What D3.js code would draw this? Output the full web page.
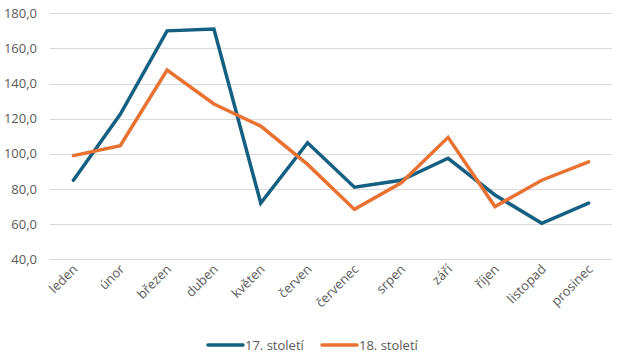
<!DOCTYPE html>
<html><head><meta charset="utf-8">
<script src="https://cdn.jsdelivr.net/npm/d3@7"></script>
<style>body{margin:0;background:#fff;}svg{display:block;font-family:"Open Sans","Liberation Sans",sans-serif;}</style>
</head><body><svg id="c" width="627" height="360"></svg>
<script>
const categories = ["leden","únor","březen","duben","květen","červen","červenec","srpen","září","říjen","listopad","prosinec"];
const series17 = [85, 122.5, 170, 171, 72, 106.3, 81, 85, 97.5, 76.6, 60.5, 72];
const series18 = [99, 104.6, 147.7, 128.4, 115.8, 94, 68.4, 83.5, 109.4, 70, 85, 95.5];
const yTicks = [40, 60, 80, 100, 120, 140, 160, 180];
const seriesNames = ["17. století", "18. století"];
const colors = ["#156082", "#E97132"];

const svg = d3.select("#c");
const x = d3.scaleBand().domain(categories).range([50, 612]);
const y = d3.scaleLinear().domain([40, 180]).range([259.3, 13.3]);
const fmt = v => d3.format(".1f")(v).replace(".", ",");

svg.append("g").selectAll("line").data(yTicks).join("line")
  .attr("x1", 50).attr("x2", 612)
  .attr("y1", d => Math.round(y(d)) + 0.5).attr("y2", d => Math.round(y(d)) + 0.5)
  .attr("stroke", "#D9D9D9").attr("stroke-width", 1);

svg.append("g").selectAll("text").data(yTicks).join("text")
  .attr("x", 37).attr("y", d => y(d) + 4.5)
  .attr("text-anchor", "end").attr("font-size", 13).attr("fill", "#595959")
  .text(fmt);

svg.append("g").selectAll("text").data(categories).join("text")
  .attr("transform", d => `translate(${x(d) + x.bandwidth()/2 + 5},${270}) rotate(-45)`)
  .attr("text-anchor", "end").attr("font-size", 13).attr("fill", "#595959")
  .text(d => d);

const line = d3.line().x((d, i) => x(categories[i]) + x.bandwidth()/2).y(d => y(d));
[series17, series18].forEach((s, k) => {
  svg.append("path").datum(s).attr("d", line)
    .attr("fill", "none").attr("stroke", colors[k]).attr("stroke-width", 3.5)
    .attr("stroke-linejoin", "miter").attr("stroke-linecap", "round");
});

const legX = [208, 322];
seriesNames.forEach((n, k) => {
  const g = svg.append("g").attr("transform", `translate(${legX[k]},345)`);
  g.append("line").attr("x1", 0).attr("x2", 35).attr("y1", 0).attr("y2", 0)
    .attr("stroke", colors[k]).attr("stroke-width", 3.5).attr("stroke-linecap", "round");
  g.append("text").attr("x", 37).attr("y", 4.5).attr("font-size", 13).attr("fill", "#595959").text(n);
});
</script></body></html>
